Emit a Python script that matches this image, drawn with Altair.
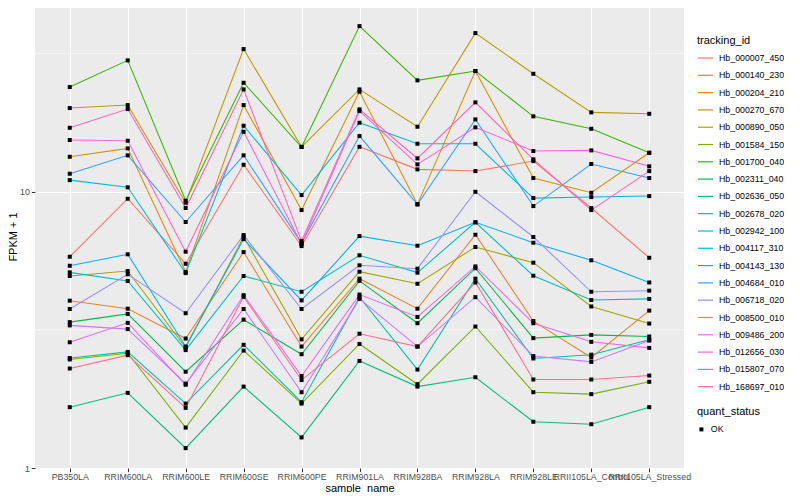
import altair as alt
import pandas as pd

samples = ["PB350LA", "RRIM600LA", "RRIM600LE", "RRIM600SE", "RRIM600PE", "RRIM901LA",
           "RRIM928BA", "RRIM928LA", "RRIM928LE", "RRII105LA_Control", "RRII105LA_Stressed"]

tracking_ids = ["Hb_000007_450", "Hb_000140_230", "Hb_000204_210", "Hb_000270_670", "Hb_000890_050",
                "Hb_001584_150", "Hb_001700_040", "Hb_002311_040", "Hb_002636_050", "Hb_002678_020",
                "Hb_002942_100", "Hb_004117_310", "Hb_004143_130", "Hb_004684_010", "Hb_006718_020",
                "Hb_008500_010", "Hb_009486_200", "Hb_012656_030", "Hb_015807_070", "Hb_168697_010"]

palette = ["#F8766D", "#EA8331", "#D89000", "#C09B00", "#A3A500", "#7CAE00", "#39B600", "#00BB4E",
           "#00BF7D", "#00C1A3", "#00BFC4", "#00BAE0", "#00B0F6", "#35A2FF", "#9590FF", "#C77CFF",
           "#E76BF3", "#FA62DB", "#FF62BC", "#FF6C91"]

Hb_000007_450 = [5.81, 9.42, 5.48, 12.50, 6.35, 14.52, 12.03, 11.86, 12.89, 8.72, 5.76]
Hb_000140_230 = [4.03, 3.77, 2.94, 6.04, 2.75, 4.84, 3.77, 6.98, 3.40, 2.51, 3.71]
Hb_000204_210 = [13.36, 14.33, 5.12, 20.55, 8.57, 22.96, 8.99, 27.28, 11.19, 9.90, 13.81]
Hb_000270_670 = [20.05, 20.55, 9.11, 32.76, 14.52, 23.42, 17.16, 37.43, 26.67, 19.34, 19.11]
Hb_000890_050 = [4.95, 5.16, 2.72, 6.86, 2.92, 5.13, 4.64, 6.30, 5.53, 3.84, 3.33]
Hb_001584_150 = [2.47, 2.60, 1.40, 2.66, 1.71, 2.81, 2.01, 3.25, 1.88, 1.85, 2.05]
Hb_001700_040 = [23.88, 29.82, 9.26, 24.75, 14.49, 39.67, 25.25, 27.28, 18.71, 16.87, 13.81]
Hb_002311_040 = [3.37, 3.61, 2.23, 3.44, 2.58, 4.75, 3.34, 5.28, 2.95, 3.03, 2.99]
Hb_002636_050 = [1.66, 1.87, 1.18, 1.97, 1.29, 2.44, 1.97, 2.13, 1.47, 1.44, 1.66]
Hb_002678_020 = [2.50, 2.63, 1.71, 2.79, 1.73, 4.15, 2.27, 4.84, 2.49, 2.57, 2.91]
Hb_002942_100 = [5.10, 4.75, 2.67, 4.95, 4.34, 5.88, 5.09, 7.74, 4.96, 4.05, 4.09]
Hb_004117_310 = [11.00, 10.36, 5.07, 17.30, 9.71, 17.74, 14.89, 14.89, 9.47, 9.55, 9.63]
Hb_004143_130 = [5.39, 5.93, 2.75, 6.73, 4.04, 6.90, 6.37, 7.74, 6.53, 5.64, 4.69]
Hb_004684_010 = [11.60, 13.52, 7.76, 13.52, 6.51, 15.88, 8.99, 18.24, 8.86, 12.58, 11.19]
Hb_006718_020 = [3.76, 5.02, 3.63, 6.96, 3.76, 5.41, 5.26, 9.98, 6.85, 4.34, 4.38]
Hb_008500_010 = [3.28, 3.18, 2.02, 3.76, 1.88, 4.09, 2.75, 4.15, 2.54, 2.42, 2.89]
Hb_009486_200 = [2.85, 3.35, 2.00, 4.22, 2.15, 4.24, 3.52, 5.36, 3.34, 2.86, 2.72]
Hb_012656_030 = [15.36, 15.27, 6.06, 16.46, 6.46, 19.55, 12.54, 17.07, 14.01, 14.09, 12.34]
Hb_015807_070 = [17.01, 19.88, 8.72, 23.42, 6.62, 19.83, 13.18, 21.02, 13.08, 8.57, 11.86]
Hb_168697_010 = [2.29, 2.56, 1.65, 4.16, 2.08, 3.06, 2.75, 4.69, 2.09, 2.09, 2.16]

series = [Hb_000007_450, Hb_000140_230, Hb_000204_210, Hb_000270_670, Hb_000890_050,
          Hb_001584_150, Hb_001700_040, Hb_002311_040, Hb_002636_050, Hb_002678_020,
          Hb_002942_100, Hb_004117_310, Hb_004143_130, Hb_004684_010, Hb_006718_020,
          Hb_008500_010, Hb_009486_200, Hb_012656_030, Hb_015807_070, Hb_168697_010]

major_breaks = [1, 10]
minor_breaks = [10 ** 0.5, 10 ** 1.5]
y_domain = [1, 47.3]

rows = []
for tid, vals in zip(tracking_ids, series):
    for s, v in zip(samples, vals):
        rows.append({"tracking_id": tid, "sample_name": s, "FPKM": v, "quant_status": "OK"})
df = pd.DataFrame(rows)
minor_df = pd.DataFrame({"FPKM": minor_breaks})

FONT = "Liberation Sans"
PLOT_H = 463

yscale = alt.Scale(type="log", domain=y_domain, nice=False)
x_enc = alt.X("sample_name:N", sort=samples,
              scale=alt.Scale(type="point", padding=0.6),
              axis=alt.Axis(title="sample_name", labelAngle=0, labelOverlap=False, labelBound=False,
                            labelFontSize=8.8, labelColor="#4D4D4D", labelPadding=0.5,
                            tickSize=3.7, tickColor="#333333", tickWidth=1.07,
                            domain=False, grid=True, gridColor="white", gridWidth=1.07,
                            titleFontSize=11, titleFontWeight="normal", titleColor="black",
                            titleBaseline="alphabetic", titleY=23))
y_enc = alt.Y("FPKM:Q", scale=yscale,
              axis=alt.Axis(title="FPKM + 1", values=major_breaks, format="d",
                            labelFontSize=8.8, labelColor="#4D4D4D", labelPadding=2,
                            tickSize=3.7, tickColor="#333333", tickWidth=1.07,
                            domain=False, grid=True, gridColor="white", gridWidth=1.07,
                            titleFontSize=11, titleFontWeight="normal", titleColor="black",
                            titleBaseline="middle", titleX=-22, titleY=PLOT_H / 2, titleAngle=270))

minor = alt.Chart(minor_df).mark_rule(color="white", strokeWidth=0.55).encode(
    y=alt.Y("FPKM:Q", scale=yscale)
)

lines = alt.Chart(df).mark_line(strokeWidth=1.07).encode(
    x=x_enc,
    y=y_enc,
    color=alt.Color("tracking_id:N",
                    scale=alt.Scale(domain=tracking_ids, range=palette),
                    legend=alt.Legend(title="tracking_id", orient="none", legendX=662, legendY=30,
                                      symbolType="stroke", symbolSize=225, symbolStrokeWidth=1.2,
                                      labelFontSize=8.8, titleFontSize=11, titleFontWeight="normal",
                                      labelColor="black", titleColor="black", labelOffset=5,
                                      rowPadding=3.3, padding=0, titlePadding=3.5)),
)

points = alt.Chart(df).mark_point(filled=True, size=16, opacity=1, shape="square").encode(
    x=alt.X("sample_name:N", sort=samples),
    y=alt.Y("FPKM:Q", scale=yscale),
    shape=alt.Shape("quant_status:N", scale=alt.Scale(domain=["OK"], range=["square"]),
                    legend=alt.Legend(title="quant_status", orient="none", legendX=662, legendY=401,
                                      symbolSize=16, symbolFillColor="black", symbolStrokeColor="black",
                                      labelFontSize=8.8, titleFontSize=11, titleFontWeight="normal",
                                      labelColor="black", titleColor="black", labelOffset=5,
                                      padding=0, titlePadding=8)),
    color=alt.value("black"),
)

chart = alt.layer(minor, lines, points).properties(
    width=649, height=PLOT_H,
    padding={"left": 27, "top": -3, "right": 100, "bottom": 24},
    autosize=alt.AutoSizeParams(type="none"),
).configure(font=FONT).configure_view(fill="#EBEBEB", stroke=None)

chart.save("out.html", embed_options={"renderer": "svg", "actions": False})
